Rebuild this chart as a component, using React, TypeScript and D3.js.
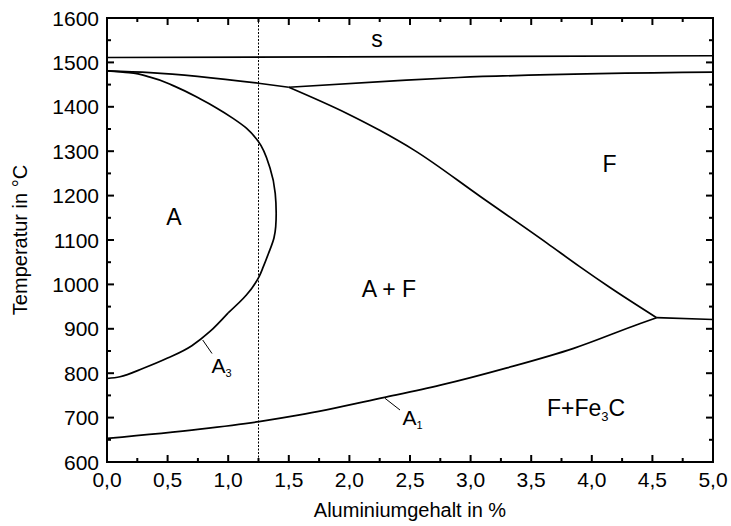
import React from 'react'
import * as d3 from 'd3'

// phase boundaries, [Al %, temperature °C]
const solidus: [number, number][] = [[0, 1511], [5, 1515]]
const deltaLeft: [number, number][] = [[0, 1481], [0.355, 1477], [1.25, 1453], [1.5, 1444]]
const deltaRight: [number, number][] = [[1.5, 1444], [2.4, 1459], [2.9, 1466], [5, 1478]]
const gammaLoop: [number, number][] = [
  [0, 1481], [0.18, 1477], [0.355, 1467], [0.56, 1446], [0.767, 1418], [0.9, 1398],
  [1.04, 1374], [1.15, 1352], [1.246, 1323], [1.345, 1262], [1.388, 1205], [1.396, 1160],
  [1.392, 1130], [1.378, 1105], [1.33, 1068], [1.29, 1040], [1.254, 1017], [1.15, 976],
  [1.0, 936], [0.85, 894], [0.7, 862], [0.5, 834], [0.3, 811], [0.107, 792], [0, 788],
]
const alphaGamma: [number, number][] = [
  [1.5, 1444], [1.98, 1385], [2.25, 1347], [2.53, 1303], [3.08, 1198], [3.63, 1093],
  [3.9, 1040], [4.15, 993], [4.535, 925],
]
const eutectoid: [number, number][] = [[4.535, 925], [5, 921]]
const a1Line: [number, number][] = [
  [0, 653], [0.767, 674], [1.254, 691], [1.59, 706], [2.28, 745], [2.75, 773],
  [3.3, 812], [3.85, 856], [4.4, 912], [4.535, 925],
]
const markerAl = 1.25

const xTicks = [0, 0.5, 1, 1.5, 2, 2.5, 3, 3.5, 4, 4.5, 5]
const yTicks = [600, 700, 800, 900, 1000, 1100, 1200, 1300, 1400, 1500, 1600]

const font = 'Liberation Sans, Arial, sans-serif'

export default function App() {
  const width = 731, height = 526
  const m = { left: 107, right: 713, top: 18, bottom: 462 }

  const x = d3.scaleLinear().domain([0, 5]).range([m.left, m.right])
  const y = d3.scaleLinear().domain([600, 1600]).range([m.bottom, m.top])

  const straight = d3.line<[number, number]>().x(d => x(d[0])).y(d => y(d[1]))
  const mono = d3.line<[number, number]>().x(d => x(d[0])).y(d => y(d[1])).curve(d3.curveMonotoneX)
  const monoY = d3.line<[number, number]>().x(d => x(d[0])).y(d => y(d[1])).curve(d3.curveMonotoneY)

  // the loop's nose is drawn as x(T), its flat A3 tail as T(x)
  const split = 936
  const loopUpper = gammaLoop.filter(d => d[1] >= split)
  const loopLower = gammaLoop.filter(d => d[1] <= split)

  const xMinor = d3.range(0.25, 5, 0.5)
  const yMinor = d3.range(650, 1600, 100)
  const fmt = (v: number) => v.toFixed(1).replace('.', ',')

  const lbl = { fontFamily: font, fontSize: 23, fill: '#000' }

  return (
    <svg width={width} height={height} style={{ position: 'absolute', left: 0, top: 0, background: '#fff' }}>
      {/* dashed marker */}
      <line x1={x(markerAl)} x2={x(markerAl)} y1={m.top} y2={m.bottom} stroke='#000' strokeWidth={1} strokeDasharray='2,1.5' />

      <g fill='none' stroke='#000' strokeWidth={1.7} strokeLinejoin='round'>
        <path d={straight(solidus)!} />
        <path d={mono(deltaLeft)!} />
        <path d={mono(deltaRight)!} />
        <path d={monoY(loopUpper)!} />
        <path d={mono(loopLower)!} />
        <path d={mono(alphaGamma)!} />
        <path d={straight(eutectoid)!} />
        <path d={mono(a1Line)!} />
      </g>

      {/* leader lines */}
      <line x1={202.7} y1={340} x2={212} y2={353.5} stroke='#000' strokeWidth={1} />
      <line x1={385} y1={398.3} x2={400} y2={410} stroke='#000' strokeWidth={1} />

      {/* frame + ticks */}
      <rect x={m.left} y={m.top} width={m.right - m.left} height={m.bottom - m.top} fill='none' stroke='#000' strokeWidth={2} />
      <g stroke='#000' strokeWidth={2}>
        {xTicks.map((t, i) => (
          <g key={'xt' + i}>
            <line x1={x(t)} x2={x(t)} y1={m.bottom} y2={m.bottom - 7} />
            <line x1={x(t)} x2={x(t)} y1={m.top} y2={m.top + 7} />
          </g>
        ))}
        {xMinor.map((t, i) => (
          <g key={'xm' + i}>
            <line x1={x(t)} x2={x(t)} y1={m.bottom} y2={m.bottom - 4} />
            <line x1={x(t)} x2={x(t)} y1={m.top} y2={m.top + 4} />
          </g>
        ))}
        {yTicks.map((t, i) => (
          <g key={'yt' + i}>
            <line x1={m.left} x2={m.left + 7} y1={y(t)} y2={y(t)} />
            <line x1={m.right} x2={m.right - 7} y1={y(t)} y2={y(t)} />
          </g>
        ))}
        {yMinor.map((t, i) => (
          <g key={'ym' + i}>
            <line x1={m.left} x2={m.left + 4} y1={y(t)} y2={y(t)} />
            <line x1={m.right} x2={m.right - 4} y1={y(t)} y2={y(t)} />
          </g>
        ))}
      </g>

      {/* tick labels */}
      <g fontFamily={font} fontSize={21} fill='#000'>
        {xTicks.map((t, i) => (
          <text key={'xl' + i} x={x(t)} y={487} textAnchor='middle'>{fmt(t)}</text>
        ))}
        {yTicks.map((t, i) => (
          <text key={'yl' + i} x={99} y={y(t) + 7.5} textAnchor='end'>{t}</text>
        ))}
      </g>
      <g fontFamily={font} fontSize={20} fill='#000'>
        <text x={(m.left + m.right) / 2} y={517} textAnchor='middle'>Aluminiumgehalt in %</text>
        <text transform={`translate(27,${(m.top + m.bottom) / 2}) rotate(-90)`} textAnchor='middle'>Temperatur in °C</text>
      </g>

      {/* region labels */}
      <text x={377} y={47} textAnchor='middle' {...lbl}>s</text>
      <text x={174} y={225} textAnchor='middle' {...lbl}>A</text>
      <text x={609.5} y={171.5} textAnchor='middle' {...lbl}>F</text>
      <text x={389} y={297} textAnchor='middle' {...lbl}>A + F</text>
      <text x={547} y={416} {...lbl}>F+Fe<tspan fontSize={13} dy={5}>3</tspan><tspan dy={-5}>C</tspan></text>
      <text x={211.5} y={372.5} fontFamily={font} fontSize={21}>A<tspan fontSize={11} dy={4}>3</tspan></text>
      <text x={402.5} y={425} fontFamily={font} fontSize={21}>A<tspan fontSize={11} dy={4}>1</tspan></text>
    </svg>
  )
}
